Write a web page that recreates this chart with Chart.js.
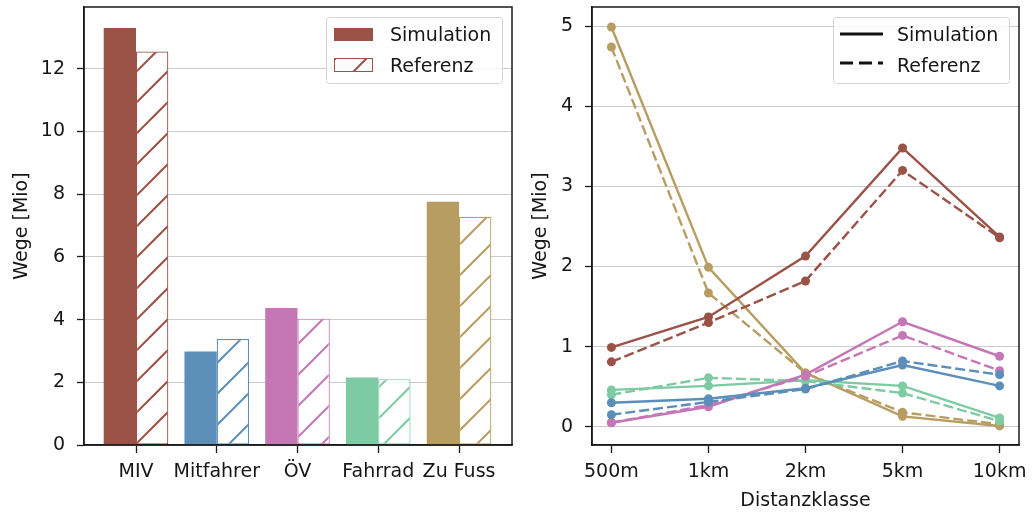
<!DOCTYPE html>
<html><head><meta charset="utf-8">
<script src="https://cdn.jsdelivr.net/npm/chart.js@4.4.1/dist/chart.umd.min.js"></script>
<style>
html,body{margin:0;padding:0;background:#fff;width:1036px;height:516px;overflow:hidden}
.box{position:absolute;top:0;height:516px}
#b1{left:0;width:520px}
#b2{left:520px;width:516px}
</style></head><body>
<div class="box" id="b1"><canvas id="c1"></canvas></div>
<div class="box" id="b2"><canvas id="c2"></canvas></div>
<script>
// ---- data ----
const modes = ['MIV', 'Mitfahrer', 'ÖV', 'Fahrrad', 'Zu Fuss'];
const modeColors = ['#9b5246', '#5b8fb9', '#c576b5', '#7dcaa3', '#b89d62'];
const simTotals = [13.3, 2.98, 4.37, 2.15, 7.76];
const refTotals = [12.55, 3.38, 4.03, 2.10, 7.28];
const leftTicks = [0, 2, 4, 6, 8, 10, 12];
const distClasses = ['500m', '1km', '2km', '5km', '10km'];
const rightTicks = [0, 1, 2, 3, 4, 5];
const simMIV = [0.99, 1.37, 2.13, 3.48, 2.37];
const refMIV = [0.81, 1.30, 1.82, 3.20, 2.36];
const simMitfahrer = [0.30, 0.35, 0.48, 0.77, 0.51];
const refMitfahrer = [0.15, 0.31, 0.47, 0.82, 0.65];
const simOEV = [0.05, 0.25, 0.65, 1.31, 0.88];
const refOEV = [0.05, 0.27, 0.63, 1.14, 0.70];
const simFahrrad = [0.46, 0.51, 0.58, 0.51, 0.11];
const refFahrrad = [0.40, 0.61, 0.57, 0.42, 0.07];
const simFuss = [4.99, 1.99, 0.67, 0.13, 0.01];
const refFuss = [4.74, 1.67, 0.67, 0.18, 0.03];
const legendLabels = ['Simulation', 'Referenz'];
const yTitle = 'Wege [Mio]';
const xTitleRight = 'Distanzklasse';

const simSeries = [simMIV, simMitfahrer, simOEV, simFahrrad, simFuss];
const refSeries = [refMIV, refMitfahrer, refOEV, refFahrrad, refFuss];

// ---- style ----
const FONT = "'DejaVu Sans', sans-serif";
const TEXT = '#161616';
const AXIS = '#1a1a1a';
Chart.defaults.font.family = FONT;
Chart.defaults.font.size = 19;
Chart.defaults.color = TEXT;

function hatchPattern(ctx, color) {
  const s = 31, p = 22;
  const c = document.createElement('canvas');
  c.width = s; c.height = s;
  const x = c.getContext('2d');
  x.fillStyle = '#fff'; x.fillRect(0, 0, s, s);
  x.strokeStyle = color; x.lineWidth = 2;
  for (let k = -1; k <= 2; k++) {
    const cc = p + k * s;
    x.beginPath(); x.moveTo(cc - 2 * s, 2 * s); x.lineTo(cc + s, -s); x.stroke();
  }
  return ctx.createPattern(c, 'repeat');
}

function frame(chart) {
  const { ctx, chartArea: a } = chart;
  ctx.save();
  ctx.strokeStyle = AXIS; ctx.lineWidth = 1.5;
  ctx.strokeRect(a.left, a.top, a.right - a.left, a.bottom - a.top);
  ctx.restore();
}
function legendBox(ctx, x, y, w, h) {
  ctx.beginPath();
  if (ctx.roundRect) ctx.roundRect(x, y, w, h, 3); else ctx.rect(x, y, w, h);
  ctx.fillStyle = 'rgba(255,255,255,0.8)'; ctx.fill();
  ctx.strokeStyle = '#d4d4d4'; ctx.lineWidth = 1; ctx.stroke();
}

function ticksFrom(arr) { return s => { s.ticks = arr.map(v => ({ value: v })); }; }
function fixX(h) { return s => { s.height = h; s.paddingLeft = 0; s.paddingRight = 0; }; }
function fixY(w) { return s => { s.width = w; s.paddingTop = 0; s.paddingBottom = 0; }; }

// ---- left: bar chart ----
const ctx1 = document.getElementById('c1').getContext('2d');
const hatches = modeColors.map(c => hatchPattern(ctx1, c));

new Chart(ctx1, {
  type: 'bar',
  data: {
    datasets: [
      { label: legendLabels[0], data: simTotals.map((v, i) => ({ x: i, y: v })),
        backgroundColor: modeColors, borderWidth: 0, barPercentage: 1, categoryPercentage: 0.8 },
      { label: legendLabels[1], data: refTotals.map((v, i) => ({ x: i, y: v })),
        backgroundColor: hatches, borderColor: modeColors, borderWidth: 1.2, borderSkipped: false,
        barPercentage: 1, categoryPercentage: 0.8 }
    ]
  },
  options: {
    responsive: true, maintainAspectRatio: false, animation: false,
    layout: { padding: { top: 7, right: 8, left: 0, bottom: 0 } },
    plugins: { legend: { display: false }, tooltip: { enabled: false } },
    scales: {
      x: {
        type: 'linear', min: -0.644, max: 4.656, offset: false,
        grid: { drawOnChartArea: false, drawTicks: true, tickLength: 8, tickColor: AXIS, tickWidth: 1.3, offset: false },
        border: { display: true, color: AXIS, width: 1.5 },
        ticks: { padding: 8, autoSkip: false, maxRotation: 0, color: TEXT,
          callback: v => modes[Math.round(v)] ?? '' },
        afterBuildTicks: ticksFrom(modes.map((m, i) => i)),
        afterFit: fixX(71)
      },
      y: {
        min: 0, max: 13.97,
        grid: { color: '#cbcbcb', lineWidth: 1, tickLength: 7, tickColor: AXIS, tickWidth: 1.3 },
        border: { display: true, color: AXIS, width: 1.5 },
        ticks: { padding: 12, color: TEXT },
        afterBuildTicks: ticksFrom(leftTicks),
        afterFit: fixY(84),
        title: { display: true, text: yTitle, padding: { top: 11, bottom: 0 }, color: TEXT }
      }
    }
  },
  plugins: [{
    id: 'decor1',
    afterDraw(chart) {
      frame(chart);
      const ctx = chart.ctx;
      ctx.save();
      legendBox(ctx, 326.5, 17.5, 176, 66);
      ctx.fillStyle = modeColors[0]; ctx.fillRect(334, 28, 39, 13);
      ctx.fillStyle = hatches[0]; ctx.fillRect(334, 58, 39, 13);
      ctx.strokeStyle = modeColors[0]; ctx.lineWidth = 1; ctx.strokeRect(334.5, 58.5, 38, 13);
      ctx.fillStyle = TEXT; ctx.font = '19px ' + FONT; ctx.textBaseline = 'alphabetic'; ctx.textAlign = 'left';
      ctx.fillText(legendLabels[0], 390, 41);
      ctx.fillText(legendLabels[1], 390, 72);
      ctx.restore();
    }
  }]
});

// ---- right: line chart ----
const lineSets = [];
modes.forEach((m, i) => {
  lineSets.push({ label: m + ' ' + legendLabels[0], data: simSeries[i].map((v, j) => ({ x: j, y: v })),
    borderColor: modeColors[i], backgroundColor: modeColors[i], borderWidth: 2.4,
    pointRadius: 4.5, pointBorderWidth: 0, tension: 0 });
  lineSets.push({ label: m + ' ' + legendLabels[1], data: refSeries[i].map((v, j) => ({ x: j, y: v })),
    borderColor: modeColors[i], backgroundColor: modeColors[i], borderWidth: 2.4, borderDash: [10, 4],
    pointRadius: 4.5, pointBorderWidth: 0, tension: 0 });
});

new Chart(document.getElementById('c2'), {
  type: 'line',
  data: { datasets: lineSets },
  options: {
    responsive: true, maintainAspectRatio: false, animation: false,
    layout: { padding: { top: 7, right: 17, left: 0, bottom: 0 } },
    plugins: { legend: { display: false }, tooltip: { enabled: false } },
    scales: {
      x: {
        type: 'linear', min: -0.2, max: 4.2,
        grid: { drawOnChartArea: false, drawTicks: true, tickLength: 8, tickColor: AXIS, tickWidth: 1.3 },
        border: { display: true, color: AXIS, width: 1.5 },
        ticks: { padding: 8, autoSkip: false, maxRotation: 0, color: TEXT,
          callback: v => distClasses[Math.round(v)] ?? '' },
        afterBuildTicks: ticksFrom(distClasses.map((d, i) => i)),
        afterFit: fixX(71),
        title: { display: true, text: xTitleRight, padding: { top: 0, bottom: 4 }, color: TEXT }
      },
      y: {
        min: -0.228, max: 5.24,
        grid: { color: '#cbcbcb', lineWidth: 1, tickLength: 7, tickColor: AXIS, tickWidth: 1.3 },
        border: { display: true, color: AXIS, width: 1.5 },
        ticks: { padding: 12, color: TEXT },
        afterBuildTicks: ticksFrom(rightTicks),
        afterFit: fixY(72),
        title: { display: true, text: yTitle, padding: { top: 10, bottom: 0 }, color: TEXT }
      }
    }
  },
  plugins: [{
    id: 'decor2',
    afterDraw(chart) {
      frame(chart);
      const ctx = chart.ctx;
      ctx.save();
      legendBox(ctx, 313.5, 17.5, 176, 66);
      ctx.strokeStyle = '#111'; ctx.lineWidth = 3;
      ctx.beginPath(); ctx.moveTo(320, 34); ctx.lineTo(363, 34); ctx.stroke();
      ctx.setLineDash([13, 6]);
      ctx.beginPath(); ctx.moveTo(320, 63); ctx.lineTo(363, 63); ctx.stroke();
      ctx.setLineDash([]);
      ctx.fillStyle = TEXT; ctx.font = '19px ' + FONT; ctx.textBaseline = 'alphabetic'; ctx.textAlign = 'left';
      ctx.fillText(legendLabels[0], 377, 41);
      ctx.fillText(legendLabels[1], 377, 72);
      ctx.restore();
    }
  }]
});
</script>
</body></html>
